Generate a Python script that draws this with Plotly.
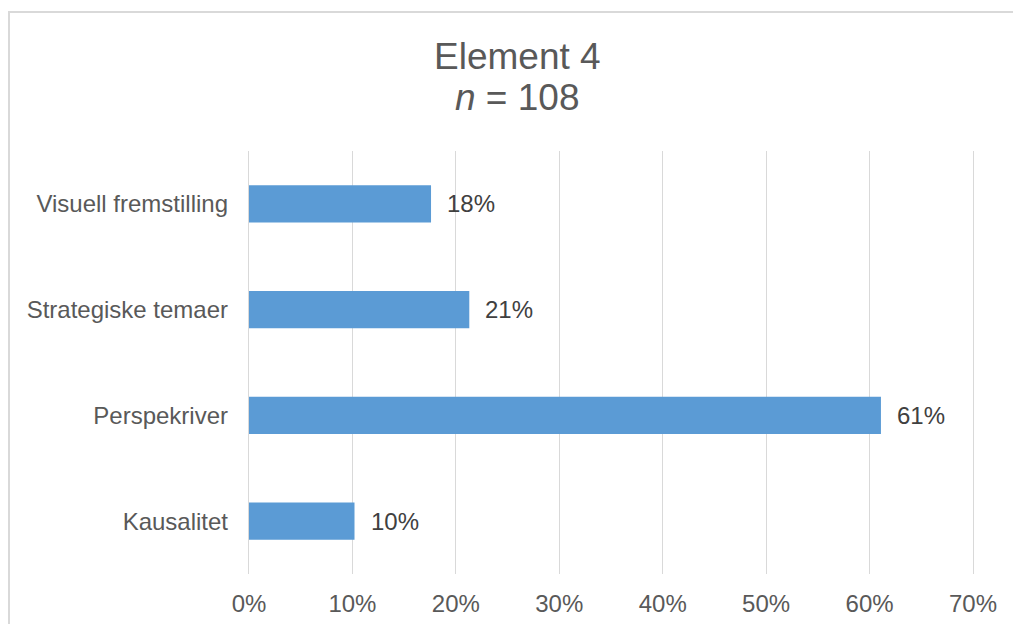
import plotly.graph_objects as go

categories = ["Kausalitet", "Perspekriver", "Strategiske temaer", "Visuell fremstilling"]
values = [0.102, 0.611, 0.213, 0.176]
labels = ["10%", "61%", "21%", "18%"]
tick_vals = [0, 0.1, 0.2, 0.3, 0.4, 0.5, 0.6, 0.7]
tick_text = ["0%", "10%", "20%", "30%", "40%", "50%", "60%", "70%"]
title_lines = ["Element 4", "<i>n</i> = 108"]

FONT = "Liberation Sans, Arial, sans-serif"
TXT = "#595959"
FS = 24
TOP, BOT = 151, 574
H = BOT - TOP

fig = go.Figure()
fig.add_trace(go.Bar(
    x=values, y=categories, orientation="h",
    marker=dict(color="#5B9BD5", line=dict(width=0)),
    width=0.35, hoverinfo="skip",
))

for c, v, t in zip(categories, values, labels):
    fig.add_annotation(x=v, y=c, text=t, showarrow=False, xanchor="left",
                       xshift=14, font=dict(family=FONT, size=FS, color="#404040"))

for line, py in zip(title_lines, [57, 98]):
    fig.add_annotation(text=line, xref="paper", yref="paper",
                       x=(517 - 249) / 724, y=(BOT - py) / H,
                       xanchor="center", yanchor="middle", showarrow=False,
                       font=dict(family=FONT, size=37, color=TXT))

fig.update_layout(
    width=1013, height=624,
    margin=dict(l=249, r=40, t=TOP, b=624 - BOT, autoexpand=False),
    paper_bgcolor="white", plot_bgcolor="white",
    showlegend=False,
    font=dict(family=FONT, size=FS, color=TXT),
    xaxis=dict(range=[0, 0.7], tickvals=tick_vals, ticktext=tick_text,
               showgrid=True, gridcolor="#D9D9D9", gridwidth=1.3,
               zeroline=False, showline=False, ticks="", automargin=False,
               ticklabelstandoff=13, fixedrange=True,
               tickfont=dict(family=FONT, size=FS, color=TXT)),
    yaxis=dict(categoryorder="array", categoryarray=categories,
               range=[-0.5, 3.5], showgrid=False, zeroline=False,
               showline=True, mirror=True, linecolor="#D9D9D9", linewidth=1.3,
               ticks="", ticklabelstandoff=15, automargin=False,
               tickfont=dict(family=FONT, size=FS, color=TXT)),
    shapes=[dict(type="rect", xref="paper", yref="paper",
                 x0=(9 - 249) / 724, x1=1.2, y0=-0.3, y1=(BOT - 12) / H,
                 line=dict(color="#D9D9D9", width=2), fillcolor="rgba(0,0,0,0)",
                 layer="below")],
)

fig.write_html("out.html")
